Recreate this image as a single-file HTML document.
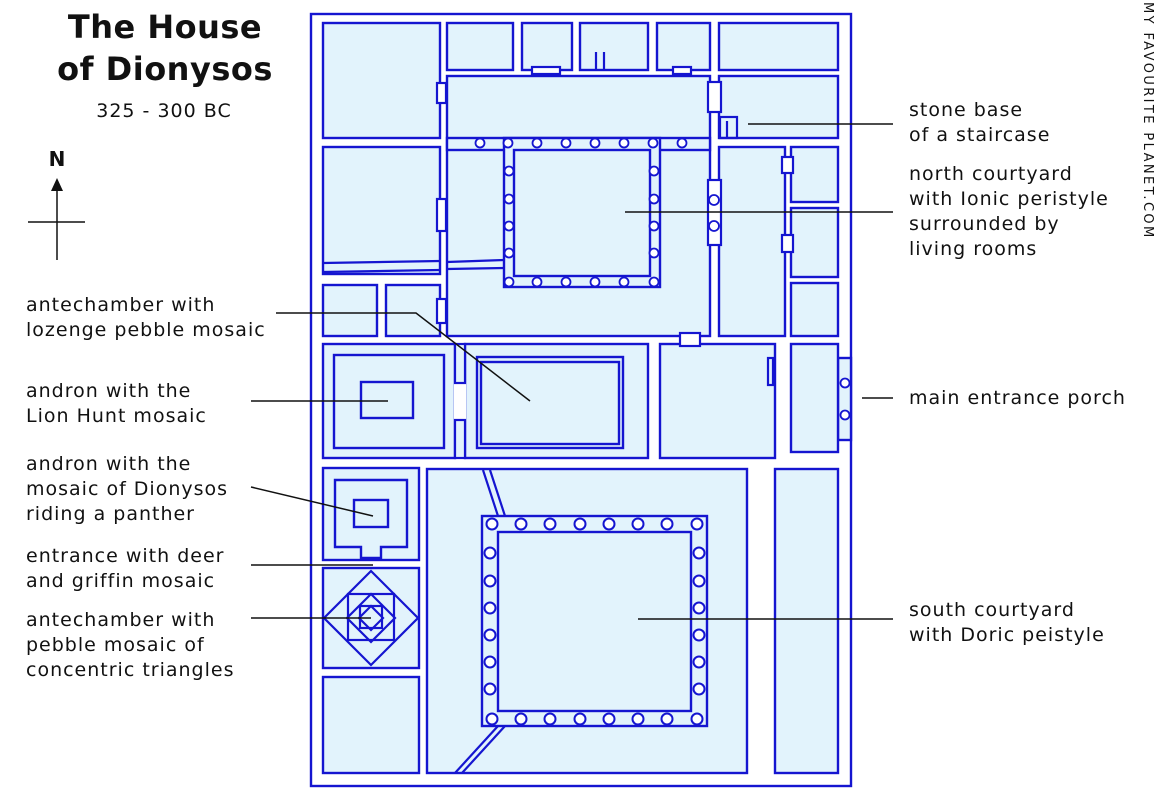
<!DOCTYPE html>
<html><head><meta charset="utf-8"><style>
html,body{margin:0;padding:0;background:#fff;}
svg{display:block}
text{font-family:"DejaVu Sans","Liberation Sans",sans-serif;fill:#111;}
</style></head><body>
<svg width="1162" height="800" viewBox="0 0 1162 800" xmlns="http://www.w3.org/2000/svg">
<rect x="311" y="14" width="540" height="772" fill="#fff" stroke="#1515d0" stroke-width="2.4"/>
<g fill="#e2f3fc" stroke="#1515d0" stroke-width="2.4">
<rect x="323" y="23" width="117" height="115"/>
<rect x="447" y="23" width="66" height="47"/><rect x="522" y="23" width="50" height="47"/>
<rect x="580" y="23" width="68" height="47"/><rect x="657" y="23" width="53" height="47"/>
<rect x="719" y="23" width="119" height="47"/>
<rect x="323" y="147" width="117" height="127"/>
<rect x="323" y="285" width="54" height="51"/><rect x="386" y="285" width="54" height="51"/>
<rect x="447" y="76" width="263" height="260"/>
<rect x="719" y="76" width="119" height="62"/>
<rect x="719" y="147" width="66" height="189"/>
<rect x="791" y="147" width="47" height="55"/><rect x="791" y="208" width="47" height="69"/><rect x="791" y="283" width="47" height="53"/>
<rect x="323" y="344" width="132" height="114"/>
<rect x="334" y="355" width="110" height="93"/>
<rect x="361" y="382" width="52" height="36"/>
<rect x="465" y="344" width="183" height="114"/>
<rect x="477" y="357" width="146" height="91"/>
<rect x="481" y="362" width="138" height="82"/>
<rect x="660" y="344" width="115" height="114"/>
<rect x="838" y="358" width="13" height="82"/>
<rect x="791" y="344" width="47" height="108"/>
<rect x="323" y="468" width="96" height="92"/>
<path d="M335 480H407V547H381V558H361V547H335Z"/>
<rect x="354" y="500" width="34" height="27"/>
<rect x="323" y="568" width="96" height="100"/>
<rect x="323" y="677" width="96" height="96"/>
<rect x="427" y="469" width="320" height="304"/>
<rect x="775" y="469" width="63" height="304"/>
<rect x="482" y="516" width="225" height="210"/>
<rect x="498" y="532" width="193" height="179"/>
<rect x="447" y="138" width="263" height="12"/>
<rect x="504" y="138" width="156" height="149"/>
<rect x="514" y="150" width="136" height="126"/>
</g>
<g fill="none" stroke="#1515d0" stroke-width="2.2">
<path d="M323 263L440 261M323 272L440 270M447 262L504 260M447 269L504 268"/>
<path d="M371 571L418 618L371 665L324 618Z"/>
<rect x="348" y="594" width="46" height="46"/>
<path d="M371 594L395 618L371 642L347 618Z"/>
<rect x="360" y="606" width="22" height="22"/>
<path d="M371 606L383 618L371 630L359 618Z"/>
<path d="M483 470L498 516M490 470L505 516M455 773L498 726M462 773L505 726"/>
<path d="M596 52V70M604 52V70"/>
<rect x="720" y="117" width="17" height="21"/><path d="M727 121V138"/>
<rect x="768" y="358" width="5" height="27"/>
</g>
<g fill="#fff" stroke="#1515d0" stroke-width="2.2">
<rect x="437" y="83" width="9" height="20"/><rect x="437" y="199" width="9" height="32"/><rect x="437" y="299" width="9" height="24"/>
<rect x="708" y="82" width="13" height="30"/><rect x="708" y="180" width="13" height="65"/>
<rect x="532" y="67" width="28" height="7"/><rect x="673" y="67" width="18" height="7"/>
<rect x="680" y="333" width="20" height="13"/>
<rect x="782" y="157" width="11" height="16"/><rect x="782" y="235" width="11" height="17"/>
</g>
<rect x="454" y="383" width="12" height="37" fill="#fff"/>
<g fill="#e2f3fc" stroke="#1515d0" stroke-width="2.2">
<rect x="455" y="344" width="10" height="39"/><rect x="455" y="420" width="10" height="38"/>
</g>
<g fill="#fff" stroke="#1515d0" stroke-width="1.8">
<circle cx="480" cy="143" r="4.5"/><circle cx="508" cy="143" r="4.5"/><circle cx="537" cy="143" r="4.5"/><circle cx="566" cy="143" r="4.5"/><circle cx="595" cy="143" r="4.5"/><circle cx="624" cy="143" r="4.5"/><circle cx="653" cy="143" r="4.5"/><circle cx="682" cy="143" r="4.5"/>
<circle cx="509" cy="171" r="4.5"/><circle cx="509" cy="199" r="4.5"/><circle cx="509" cy="226" r="4.5"/><circle cx="509" cy="253" r="4.5"/>
<circle cx="654" cy="171" r="4.5"/><circle cx="654" cy="199" r="4.5"/><circle cx="654" cy="226" r="4.5"/><circle cx="654" cy="253" r="4.5"/>
<circle cx="509" cy="282" r="4.5"/><circle cx="537" cy="282" r="4.5"/><circle cx="566" cy="282" r="4.5"/><circle cx="595" cy="282" r="4.5"/><circle cx="624" cy="282" r="4.5"/><circle cx="654" cy="282" r="4.5"/>
<circle cx="845" cy="383" r="4.5"/><circle cx="845" cy="415" r="4.5"/>
<circle cx="714" cy="200" r="5"/><circle cx="714" cy="226" r="5"/>
</g>
<g fill="#fff" stroke="#1515d0" stroke-width="2">
<circle cx="492" cy="524" r="5.5"/><circle cx="521" cy="524" r="5.5"/><circle cx="550" cy="524" r="5.5"/><circle cx="580" cy="524" r="5.5"/><circle cx="609" cy="524" r="5.5"/><circle cx="638" cy="524" r="5.5"/><circle cx="667" cy="524" r="5.5"/><circle cx="697" cy="524" r="5.5"/>
<circle cx="492" cy="719" r="5.5"/><circle cx="521" cy="719" r="5.5"/><circle cx="550" cy="719" r="5.5"/><circle cx="580" cy="719" r="5.5"/><circle cx="609" cy="719" r="5.5"/><circle cx="638" cy="719" r="5.5"/><circle cx="667" cy="719" r="5.5"/><circle cx="697" cy="719" r="5.5"/>
<circle cx="490" cy="553" r="5.5"/><circle cx="490" cy="581" r="5.5"/><circle cx="490" cy="608" r="5.5"/><circle cx="490" cy="635" r="5.5"/><circle cx="490" cy="662" r="5.5"/><circle cx="490" cy="689" r="5.5"/>
<circle cx="699" cy="553" r="5.5"/><circle cx="699" cy="581" r="5.5"/><circle cx="699" cy="608" r="5.5"/><circle cx="699" cy="635" r="5.5"/><circle cx="699" cy="662" r="5.5"/><circle cx="699" cy="689" r="5.5"/>
</g>
<g stroke="#111" stroke-width="1.5" fill="none">
<path d="M748 124H893M625 212H893M276 313H416L530 401M251 401H388M251 487L373 516M251 565H373M251 618H371M862 398H893M638 619H893"/>
<path d="M28 222H85M57 188V260"/>
</g>
<path d="M57 178L51 191H63Z" fill="#111"/>
<text x="165" y="38" font-size="32" font-weight="bold" text-anchor="middle" letter-spacing="0.5">The House</text>
<text x="165" y="80" font-size="32" font-weight="bold" text-anchor="middle" letter-spacing="0.5">of Dionysos</text>
<text x="164" y="117" font-size="19" text-anchor="middle" letter-spacing="1">325 - 300 BC</text>
<text x="57" y="166" font-size="20" font-weight="bold" text-anchor="middle">N</text>
<g font-size="19" letter-spacing="1">
<text x="26" y="311">antechamber with</text><text x="26" y="336">lozenge pebble mosaic</text>
<text x="26" y="397">andron with the</text><text x="26" y="422">Lion Hunt mosaic</text>
<text x="26" y="470">andron with the</text><text x="26" y="495">mosaic of Dionysos</text><text x="26" y="520">riding a panther</text>
<text x="26" y="562">entrance with deer</text><text x="26" y="587">and griffin mosaic</text>
<text x="26" y="626">antechamber with</text><text x="26" y="651">pebble mosaic of</text><text x="26" y="676">concentric triangles</text>
<text x="909" y="116">stone base</text><text x="909" y="141">of a staircase</text>
<text x="909" y="180">north courtyard</text><text x="909" y="205">with Ionic peristyle</text><text x="909" y="230">surrounded by</text><text x="909" y="255">living rooms</text>
<text x="909" y="404">main entrance porch</text>
<text x="909" y="616">south courtyard</text><text x="909" y="641">with Doric peistyle</text>
</g>
<text transform="translate(1144,2) rotate(90)" font-size="13" letter-spacing="2.4">MY FAVOURITE PLANET.COM</text>
</svg>
</body></html>
